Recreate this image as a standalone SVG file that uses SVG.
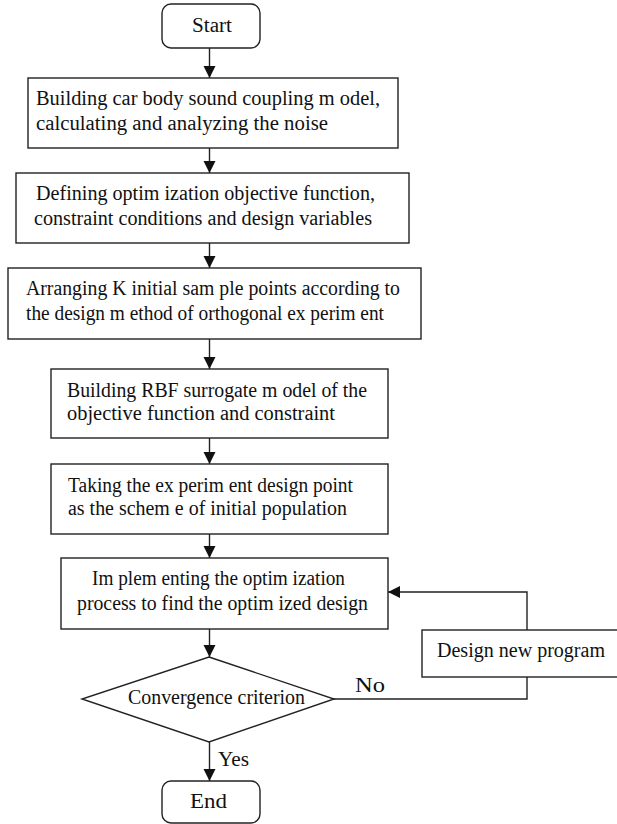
<svg xmlns="http://www.w3.org/2000/svg" width="617" height="824" viewBox="0 0 617 824">
<style>
.box{fill:#fff;stroke:#222;stroke-width:1.4}
.ln{fill:none;stroke:#222;stroke-width:1.4}
text{font-family:"Liberation Serif","Times New Roman",serif;font-size:20px;fill:#111}
</style>
<defs>
<marker id="ah" markerUnits="userSpaceOnUse" markerWidth="12" markerHeight="14" viewBox="0 0 12 14" refX="12" refY="7" orient="auto">
<path d="M0,1 L12,7 L0,13 Z" fill="#111"/>
</marker>
</defs>
<g id="connectors">
<line class="ln" x1="209.5" y1="48" x2="209.5" y2="78" marker-end="url(#ah)"/>
<line class="ln" x1="209.5" y1="148" x2="209.5" y2="173" marker-end="url(#ah)"/>
<line class="ln" x1="209.5" y1="243" x2="209.5" y2="268" marker-end="url(#ah)"/>
<line class="ln" x1="209.5" y1="339" x2="209.5" y2="369" marker-end="url(#ah)"/>
<line class="ln" x1="209.5" y1="438" x2="209.5" y2="464" marker-end="url(#ah)"/>
<line class="ln" x1="209.5" y1="534" x2="209.5" y2="558" marker-end="url(#ah)"/>
<line class="ln" x1="209.5" y1="629" x2="209.5" y2="657" marker-end="url(#ah)"/>
<line class="ln" x1="209.5" y1="742" x2="209.5" y2="781" marker-end="url(#ah)"/>
<polyline class="ln" points="333,699 527,699 527,677"/>
<polyline class="ln" points="527,630 527,592 388,592" marker-end="url(#ah)"/>
<text x="355" y="692" textLength="30" lengthAdjust="spacingAndGlyphs">No</text>
<text x="218" y="766" textLength="31" lengthAdjust="spacingAndGlyphs">Yes</text>
</g>
<g id="start">
<rect class="box" x="162" y="4" width="98" height="44" rx="9"/>
<text x="192" y="32" textLength="40" lengthAdjust="spacingAndGlyphs">Start</text>
</g>
<g id="box1">
<rect class="box" x="28" y="78" width="370" height="70"/>
<text x="36" y="105" textLength="344" lengthAdjust="spacingAndGlyphs">Building car body sound coupling m odel,</text>
<text x="36" y="130" textLength="292" lengthAdjust="spacingAndGlyphs">calculating and analyzing the noise</text>
</g>
<g id="box2">
<rect class="box" x="16" y="173" width="393" height="70"/>
<text x="36" y="200" textLength="339" lengthAdjust="spacingAndGlyphs">Defining optim ization objective function,</text>
<text x="34" y="225" textLength="338" lengthAdjust="spacingAndGlyphs">constraint conditions and design variables</text>
</g>
<g id="box3">
<rect class="box" x="8" y="268" width="413" height="71"/>
<text x="26" y="295" textLength="374" lengthAdjust="spacingAndGlyphs">Arranging K initial sam ple points according to</text>
<text x="26" y="320" textLength="358" lengthAdjust="spacingAndGlyphs">the design m ethod of orthogonal ex perim ent</text>
</g>
<g id="box4">
<rect class="box" x="51" y="369" width="337" height="69"/>
<text x="67" y="397" textLength="300" lengthAdjust="spacingAndGlyphs">Building RBF surrogate m odel of the</text>
<text x="67" y="420" textLength="268" lengthAdjust="spacingAndGlyphs">objective function and constraint</text>
</g>
<g id="box5">
<rect class="box" x="51" y="464" width="337" height="70"/>
<text x="68" y="492" textLength="285" lengthAdjust="spacingAndGlyphs">Taking the ex perim ent design point</text>
<text x="68" y="515" textLength="279" lengthAdjust="spacingAndGlyphs">as the schem e of initial population</text>
</g>
<g id="box6">
<rect class="box" x="61" y="558" width="327" height="71"/>
<text x="92" y="585" textLength="253" lengthAdjust="spacingAndGlyphs">Im plem enting the optim ization</text>
<text x="77" y="610" textLength="291" lengthAdjust="spacingAndGlyphs">process to find the optim ized design</text>
</g>
<g id="decision">
<polygon class="box" points="209,657 334,699 209,742 82,699"/>
<text x="128" y="704" textLength="177" lengthAdjust="spacingAndGlyphs">Convergence criterion</text>
</g>
<g id="redesign">
<rect class="box" x="422" y="630" width="200" height="47"/>
<text x="437" y="657" textLength="168" lengthAdjust="spacingAndGlyphs">Design new program</text>
</g>
<g id="end">
<rect class="box" x="162" y="781" width="98" height="42" rx="9"/>
<text x="190" y="808" textLength="37" lengthAdjust="spacingAndGlyphs">End</text>
</g>
</svg>
